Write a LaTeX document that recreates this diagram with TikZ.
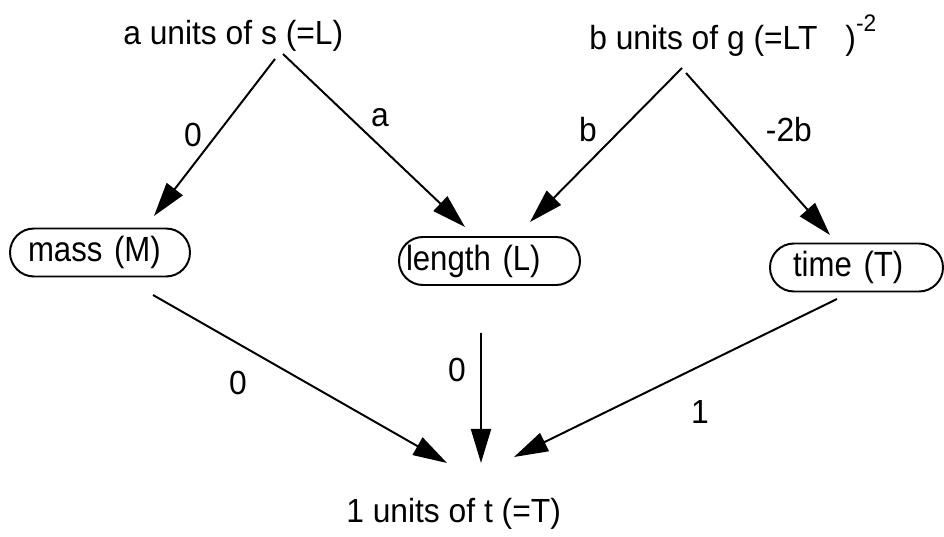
\documentclass[tikz,border=0pt]{standalone}
\usepackage{fontspec}
\setmainfont{Liberation Sans}[FakeStretch=0.95]
\newfontfamily\ovalfont{Liberation Sans}[FakeStretch=0.89]
\usetikzlibrary{arrows.meta}

\begin{document}
\begin{tikzpicture}[
  every node/.style={font=\fontsize{23.8pt}{28pt}\selectfont,inner sep=0pt},
  oval/.style={draw,line width=1.4pt,rounded corners=0.6cm,minimum height=1.2cm,align=left,font=\ovalfont\fontsize{24.9pt}{29pt}\selectfont},
  ar/.style={-{Triangle[length=0.85cm,width=0.5cm]},line width=1.4pt}]
\useasboundingbox (0,0) rectangle (23.6,13.425);
% quantities
\node[anchor=base west] (sA) at (3.075,12.3) {a units of s (=L)};
\node[anchor=base west] (sB) at (14.725,12.175) {b units of g (=LT\hspace{0.7cm})\raisebox{0.45cm}{\fontsize{17pt}{17pt}\selectfont -2}};
\node[anchor=base west] (sT) at (8.65,0.35) {1 units of t (=T)};
% dimensions
\node[oval,text width=3.6cm,inner xsep=0.45cm] (mass) at (2.5,7.1125) {mass (M)};
\node[oval,text width=4.175cm,inner xsep=0.175cm] (length) at (12.2375,6.9) {length (L)};
\node[oval,text width=3.175cm,inner xsep=0.575cm] (time) at (21.4125,6.7375) {time (T)};
% exponents
\draw[ar] ([shift={(3.8,-0.35)}]sA.base west) -- ([shift={(1.35,0.9125)}]mass.center) node[pos=0.556,shift={(-0.37,0.28)}] {0};
\draw[ar] ([shift={(4.0,-0.225)}]sA.base west) -- ([shift={(-0.6125,0.85)}]length.center) node[pos=0.456,shift={(0.35,0.37)}] {a};
\draw[ar] ([shift={(2.325,-0.45)}]sB.base west) -- ([shift={(1.0125,0.975)}]length.center) node[pos=0.509,shift={(-0.415,0.41)}] {b};
\draw[ar] ([shift={(2.425,-0.575)}]sB.base west) -- ([shift={(-0.6625,0.8125)}]time.center) node[pos=0.512,shift={(0.73,0.65)}] {-2b};
\draw[ar] ([shift={(1.325,-1.0625)}]mass.center) -- ([shift={(2.525,1.5)}]sT.base west) node[pos=0.347,shift={(-0.425,-0.74)}] {0};
\draw[ar] ([shift={(-0.2125,-1.8)}]length.center) -- ([shift={(3.375,1.5)}]sT.base west) node[pos=0.285,shift={(-0.6,0)}] {0};
\draw[ar] ([shift={(-0.4875,-0.7875)}]time.center) -- ([shift={(4.2,1.65)}]sT.base west) node[pos=0.48,shift={(0.45,-0.93)}] {1};
\end{tikzpicture}
\end{document}
